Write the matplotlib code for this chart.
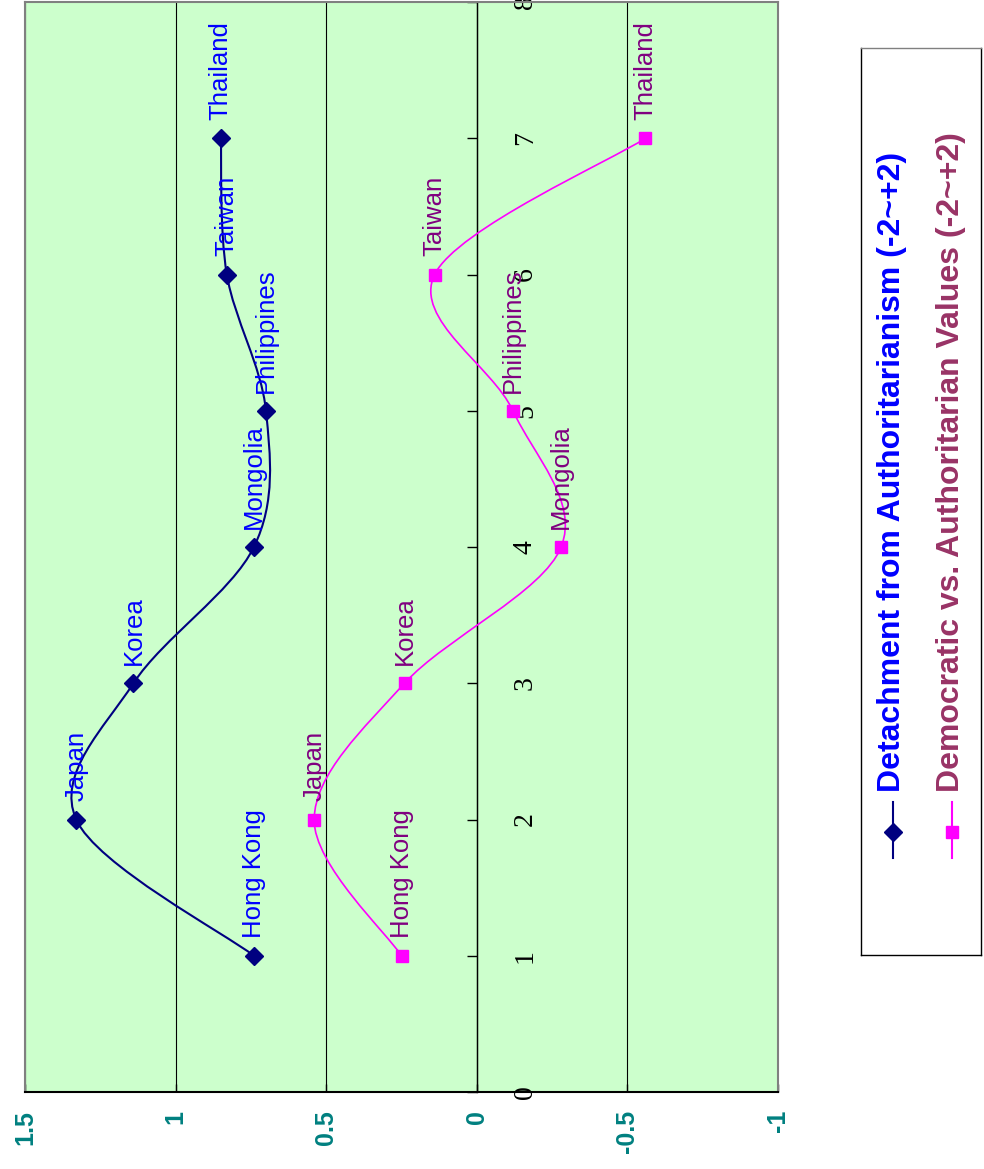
import numpy as np
import matplotlib
matplotlib.use("Agg")
import matplotlib.pyplot as plt
from matplotlib.path import Path
from matplotlib.patches import PathPatch

plt.rcParams['font.family'] = ['Liberation Sans', 'DejaVu Sans']

# data
countries = ['Hong Kong', 'Japan', 'Korea', 'Mongolia', 'Philippines', 'Taiwan', 'Thailand']
positions = [1, 2, 3, 4, 5, 6, 7]
detachment = [0.74, 1.33, 1.14, 0.74, 0.70, 0.83, 0.85]
democratic = [0.25, 0.54, 0.24, -0.28, -0.12, 0.14, -0.56]
series_names = ['Detachment from Authoritarianism (-2~+2)',
                'Democratic vs. Authoritarian Values (-2~+2)']
value_ticks = [1.5, 1, 0.5, 0, -0.5, -1]
value_labels = ['1.5', '1', '0.5', '0', '-0.5', '-1']
cat_ticks = [0, 1, 2, 3, 4, 5, 6, 7, 8]
cat_labels = ['0', '1', '2', '3', '4', '5', '6', '7', '8']

# colours
NAVY = '#000080'
MAGENTA = '#FF00FF'
LBL1 = '#0000FF'
LBL2 = '#800080'
LEG2 = '#993366'
TEAL = '#008080'
GRAY = '#808080'


def smooth_path(xs, ys):
    # bezier through the points, excel style smoothing
    pts = np.column_stack([xs, ys]).astype(float)
    n = len(pts)
    verts = [pts[0]]
    codes = [Path.MOVETO]
    for i in range(n - 1):
        p0 = pts[i - 1] if i > 0 else pts[i]
        p1 = pts[i]
        p2 = pts[i + 1]
        p3 = pts[i + 2] if i + 2 < n else pts[i + 1]
        verts += [p1 + (p2 - p0) / 6, p2 - (p3 - p1) / 6, p2]
        codes += [Path.CURVE4] * 3
    return Path(verts, codes)


fig = plt.figure(figsize=(9.84, 11.69), dpi=100)
ax = fig.add_axes([25 / 984, 1 - 1092 / 1169, 753 / 984, 1090 / 1169])
ax.set_facecolor('#CCFFCC')
ax.set_xlim(1.5, -1)
ax.set_ylim(0, 8)

# curves
for vals, col, lw, mk, ms, lcol in [(detachment, NAVY, 1.5, 'D', 9, LBL1),
                                     (democratic, MAGENTA, 1.2, 's', 8.5, LBL2)]:
    ax.add_patch(PathPatch(smooth_path(vals, positions), facecolor='none',
                           edgecolor=col, lw=lw, zorder=3))
    ax.plot(vals, positions, linestyle='none', marker=mk, ms=ms, color=col, zorder=4)
    for name, v, p in zip(countries, vals, positions):
        ax.annotate(name, (v, p), xytext=(0, 13), textcoords='offset points',
                    rotation=90, ha='center', va='bottom', fontsize=18.5,
                    color=lcol, zorder=5)

# value axis (bottom)
ax.set_xticks(value_ticks)
ax.set_xticklabels(value_labels, rotation=90, fontsize=18, fontweight='bold', color=TEAL)
ax.tick_params(axis='x', direction='in', length=6, width=1, pad=13)
ax.xaxis.grid(True, color='black', lw=0.8)

# category axis at value 0
ax.spines['right'].set_position(('data', 0))
ax.spines['right'].set_linewidth(1)
ax.yaxis.tick_right()
ax.set_yticks(cat_ticks)
ax.set_yticklabels(cat_labels, rotation=90, fontsize=20, family='Liberation Serif',
                   va='center')
ax.tick_params(axis='y', direction='in', length=7, width=1, pad=26)

ax.spines['bottom'].set_linewidth(1.5)
for s in ['top', 'left']:
    ax.spines[s].set_color(GRAY)
    ax.spines[s].set_linewidth(1.5)
ax.plot([1, 1], [0, 1], transform=ax.transAxes, color=GRAY, lw=1.5, clip_on=False)

# legend, drawn by hand because it is rotated
lg = fig.add_axes([861 / 984, 1 - 955 / 1169, 120 / 984, 907 / 1169])
lg.set_xlim(0, 1)
lg.set_ylim(0, 1)
lg.set_xticks([])
lg.set_yticks([])
for s in lg.spines.values():
    s.set_color('black')
    s.set_linewidth(1)
lg.spines['top'].set_color(GRAY)

for x, col, mk, ms, tcol, name in [(0.267, NAVY, 'D', 9, LBL1, series_names[0]),
                                   (0.758, MAGENTA, 's', 8.5, LEG2, series_names[1])]:
    lg.plot([x, x], [0.107, 0.169], color=col, lw=1.5)
    lg.plot([x], [0.136], marker=mk, ms=ms, color=col)
    lg.text(x - 0.01, 0.18, name, rotation=90, ha='center', va='bottom',
            fontsize=23, fontweight='bold', color=tcol)

fig.savefig('out.png', dpi=100)
